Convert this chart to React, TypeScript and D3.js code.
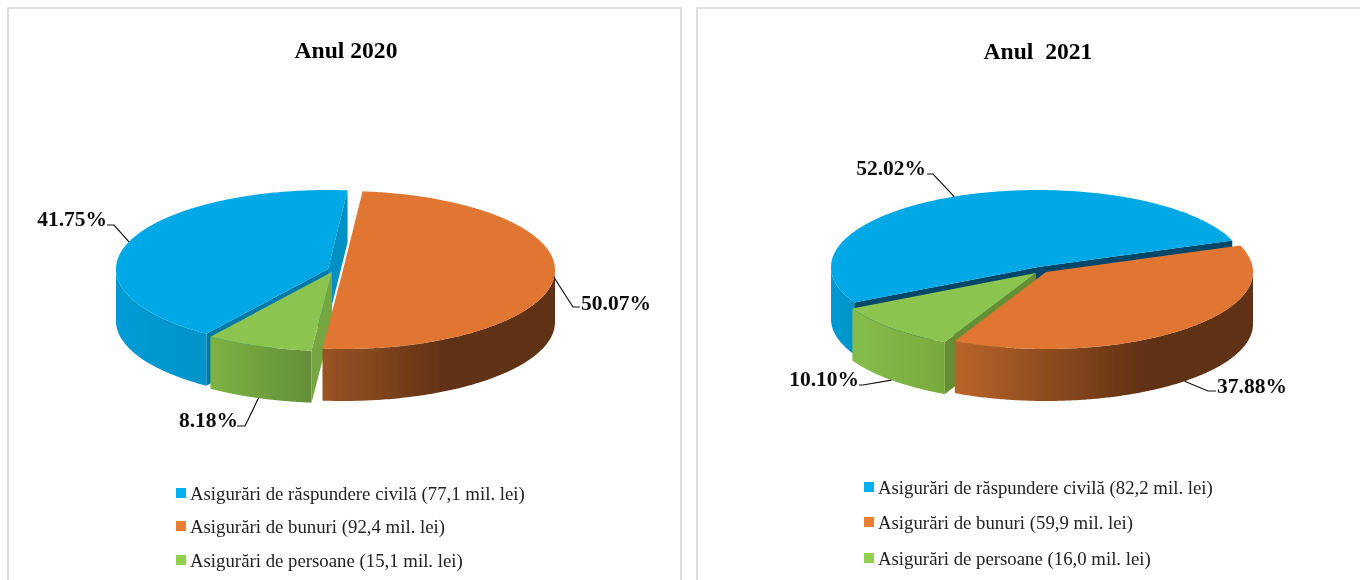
import React from "react";
import * as d3 from "d3";

const categories = ["Asigurări de răspundere civilă", "Asigurări de bunuri", "Asigurări de persoane"];
const amounts2020 = [77.1, 92.4, 15.1];
const shares2020 = [41.75, 50.07, 8.18];
const amounts2021 = [82.2, 59.9, 16.0];
const shares2021 = [52.02, 37.88, 10.1];

const colorTop = d3.scaleOrdinal<number, string>().domain([0, 1, 2]).range(["#00a8e6", "#e07630", "#8bc44f"]);
const legendColor = d3.scaleOrdinal<number, string>().domain([0, 1, 2]).range(["#00b0f0", "#ed7d31", "#92d050"]);

const rad = (d: number) => (d * Math.PI) / 180;
const FONT = "'Liberation Serif','Times New Roman',serif";
const DEPTH = 52;

type SliceGeo = {
  c: [number, number];
  wall: [string, string, number];
  faceStart: string;
  faceEnd: string;
};
type LabelGeo = { elbow: [number, number]; end: number; tx: number; ty: number; anchor: "start" | "end"; front: boolean };
type Panel = {
  id: string;
  title: string;
  titleX: number;
  titleY: number;
  frame: [number, number, number, number];
  firstAngle: number;
  rx: number;
  ry: number;
  shares: number[];
  amounts: number[];
  slices: SliceGeo[];
  labels: LabelGeo[];
  legendX: number;
  legendY: number[];
};

const panels: Panel[] = [
  {
    id: "a",
    title: "Anul 2020",
    titleX: 346,
    titleY: 58,
    frame: [8, 8, 681, 600],
    firstAngle: 215,
    rx: 212,
    ry: 79,
    shares: shares2020,
    amounts: amounts2020,
    slices: [
      { c: [328, 269], wall: ["#009bd6", "#0093c9", 1], faceStart: "#0079a8", faceEnd: "#0090c4" },
      { c: [343, 270], wall: ["#9a5424", "#5e3013", 0.55], faceStart: "#000", faceEnd: "#000" },
      { c: [332, 272], wall: ["#7db243", "#648f38", 1], faceStart: "#74a63f", faceEnd: "#000" },
    ],
    labels: [
      { elbow: [114, 225], end: 107, tx: 107, ty: 226, anchor: "end", front: false },
      { elbow: [573, 307], end: 580, tx: 581, ty: 310, anchor: "start", front: false },
      { elbow: [245, 426], end: 237, tx: 238, ty: 427, anchor: "end", front: true },
    ],
    legendX: 176,
    legendY: [499, 532, 566],
  },
  {
    id: "b",
    title: "Anul  2021",
    titleX: 1038,
    titleY: 59,
    frame: [697, 8, 1375, 600],
    firstAngle: 242.5,
    rx: 207,
    ry: 77,
    shares: shares2021,
    amounts: amounts2021,
    slices: [
      { c: [1038, 267], wall: ["#009bd6", "#0093c9", 1], faceStart: "#00466a", faceEnd: "#00466a" },
      { c: [1046, 272], wall: ["#b9652a", "#5e3013", 0.65], faceStart: "#000", faceEnd: "#000" },
      { c: [1036, 273], wall: ["#86bd4a", "#78a93f", 1], faceStart: "#658e35", faceEnd: "#000" },
    ],
    labels: [
      { elbow: [933, 174], end: 927, tx: 926, ty: 175, anchor: "end", front: false },
      { elbow: [1208, 391], end: 1216, tx: 1217, ty: 393, anchor: "start", front: true },
      { elbow: [863, 385], end: 859, tx: 859, ty: 386, anchor: "end", front: true },
    ],
    legendX: 864,
    legendY: [493, 528, 564],
  },
];

const pathLine = d3.line<[number, number]>();

function sliceShapes(p: Panel, arc: d3.PieArcDatum<number>, geo: SliceGeo) {
  const x = d3.scaleLinear().domain([-1, 1]).range([geo.c[0] - p.rx, geo.c[0] + p.rx]);
  const y = d3.scaleLinear().domain([-1, 1]).range([geo.c[1] - p.ry, geo.c[1] + p.ry]);
  const pt = (a: number, drop = 0): [number, number] => [x(Math.sin(a)), y(-Math.cos(a)) + drop];
  const N = 240;
  const angles = d3.range(N + 1).map((i) => arc.startAngle + ((arc.endAngle - arc.startAngle) * i) / N);
  const top = pathLine([geo.c, ...angles.map((a) => pt(a))]) + "Z";
  const frontAngles = angles.filter((a) => Math.cos(a) <= 0);
  const wall = frontAngles.length
    ? pathLine([...frontAngles.map((a) => pt(a)), ...frontAngles.slice().reverse().map((a) => pt(a, DEPTH))]) + "Z"
    : null;
  const xs = frontAngles.map((a) => pt(a)[0]);
  const radial = (a: number) =>
    pathLine([geo.c, pt(a), pt(a, DEPTH), [geo.c[0], geo.c[1] + DEPTH]]) + "Z";
  const faceStart = Math.sin(arc.startAngle) < 0 ? radial(arc.startAngle) : null;
  const faceEnd = Math.sin(arc.endAngle) > 0 ? radial(arc.endAngle) : null;
  return { top, wall, wallX: d3.extent(xs) as [number, number], faceStart, faceEnd, pt };
}

function PiePanel({ p }: { p: Panel }) {
  const start = rad(p.firstAngle);
  const arcs = d3.pie<number>().sort(null).startAngle(start).endAngle(start + 2 * Math.PI)(p.shares);
  const drawOrder = [0, 2, 1];
  const [fx0, fy0, fx1, fy1] = p.frame;
  return (
    <g>
      <rect x={fx0} y={fy0} width={fx1 - fx0} height={fy1 - fy0} fill="#fff" stroke="#d4d4d4" strokeWidth={1.5} />
      <g filter="url(#softText)">
        <text x={p.titleX} y={p.titleY} textAnchor="middle" fontFamily={FONT} fontWeight="bold" fontSize={23.6} style={{ whiteSpace: "pre" }}>
          {p.title}
        </text>
      </g>
      <g filter="url(#soft)">
        {drawOrder.map((i) => {
          const s = sliceShapes(p, arcs[i], p.slices[i]);
          const g = p.slices[i];
          const gid = `${p.id}w${i}`;
          return (
            <g key={i}>
              <defs>
                <linearGradient id={gid} gradientUnits="userSpaceOnUse" x1={s.wallX[0]} x2={s.wallX[1]} y1={0} y2={0}>
                  <stop offset={0} stopColor={g.wall[0]} />
                  <stop offset={g.wall[2]} stopColor={g.wall[1]} />
                </linearGradient>
              </defs>
              {s.wall && <path d={s.wall} fill={`url(#${gid})`} />}
              {s.faceStart && <path d={s.faceStart} fill={g.faceStart} />}
              {s.faceEnd && <path d={s.faceEnd} fill={g.faceEnd} />}
              <path d={s.top} fill={colorTop(i)} />
            </g>
          );
        })}
      </g>
      {arcs.map((a, i) => {
        const s = sliceShapes(p, a, p.slices[i]);
        const l = p.labels[i];
        const anchor = s.pt((a.startAngle + a.endAngle) / 2, l.front ? DEPTH : 0);
        return (
          <g key={i}>
            <path d={pathLine([anchor, l.elbow, [l.end, l.elbow[1]]]) ?? ""} fill="none" stroke="#111" strokeWidth={1.2} />
            <g filter="url(#softText)">
              <text x={l.tx} y={l.ty} textAnchor={l.anchor} fontFamily={FONT} fontWeight="bold" fontSize={21.5} fill="#111">
                {p.shares[i].toFixed(2) + "%"}
              </text>
            </g>
          </g>
        );
      })}
      {categories.map((c, i) => (
        <g key={c}>
          <rect x={p.legendX} y={p.legendY[i] - 11} width={10} height={10} fill={legendColor(i)} />
          <g filter="url(#softText)">
            <text x={p.legendX + 14} y={p.legendY[i] + 1} fontFamily={FONT} fontSize={18.8} fill="#222">
              {`${c} (${p.amounts[i].toFixed(1).replace(".", ",")} mil. lei)`}
            </text>
          </g>
        </g>
      ))}
    </g>
  );
}

export default function App() {
  return (
    <svg width={1360} height={580} viewBox="0 0 1360 580" style={{ position: "absolute", left: 0, top: 0, display: "block" }}>
      <defs>
        <filter id="soft" x="-5%" y="-5%" width="110%" height="110%">
          <feGaussianBlur stdDeviation={0.5} />
        </filter>
        <filter id="softText" x="-5%" y="-20%" width="110%" height="140%">
          <feGaussianBlur stdDeviation={0.3} />
        </filter>
      </defs>
      <rect x={0} y={0} width={1360} height={580} fill="#fff" />
      {panels.map((p) => (
        <PiePanel key={p.id} p={p} />
      ))}
    </svg>
  );
}
